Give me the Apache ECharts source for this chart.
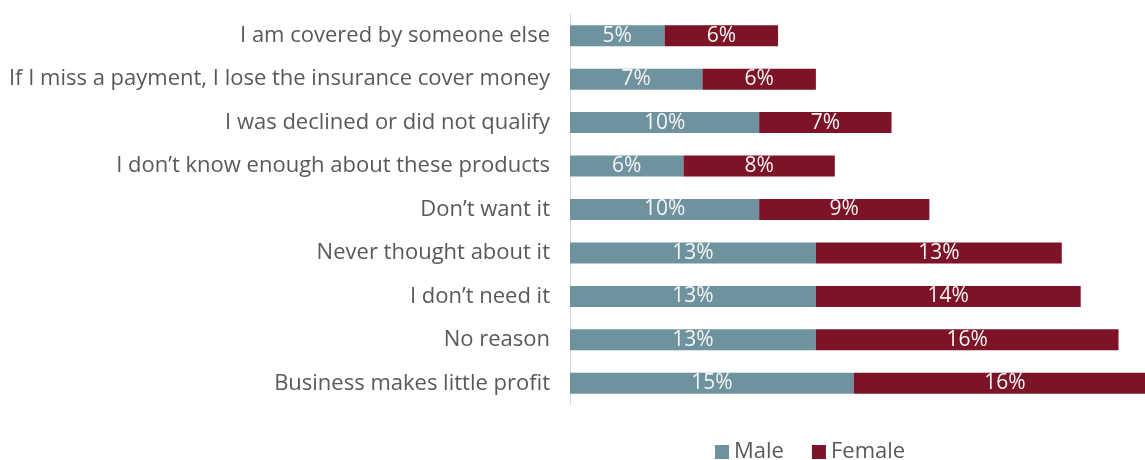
<!DOCTYPE html>
<html><head><meta charset="utf-8">
<script src="https://cdn.jsdelivr.net/npm/echarts@6/dist/echarts.min.js"></script>
<style>html,body{margin:0;padding:0;background:#fff}#c{width:1145px;height:460px}</style>
</head><body><div id="c"></div>
<script>
const categories = [
  "I am covered by someone else",
  "If I miss a payment, I lose the insurance cover money",
  "I was declined or did not qualify",
  "I don\u2019t know enough about these products",
  "Don\u2019t want it",
  "Never thought about it",
  "I don\u2019t need it",
  "No reason",
  "Business makes little profit"
];
const male = [5, 7, 10, 6, 10, 13, 13, 13, 15];
const female = [6, 6, 7, 8, 9, 13, 14, 16, 16];

const chart = echarts.init(document.getElementById('c'), null, {renderer: 'canvas'});
const font = "'Open Sans', 'Noto Sans', sans-serif";
const lbl = {show: true, position: 'inside', color: '#f4f4f4', fontSize: 21, fontFamily: font, formatter: p => p.value + '%'};
chart.setOption({
  animation: false,
  grid: {left: 570, right: 0, top: 14, bottom: 55, containLabel: false},
  legend: {
    left: 710, top: 436, itemWidth: 14, itemHeight: 14, itemGap: 28,
    icon: 'rect',
    textStyle: {color: '#595959', fontSize: 22, fontFamily: font},
    data: ['Male', 'Female']
  },
  xAxis: {type: 'value', min: 0, max: 30.4, show: false},
  yAxis: {
    type: 'category', data: categories, inverse: true,
    axisLine: {show: true, lineStyle: {color: '#d9d9d9', width: 1}},
    axisTick: {show: false},
    axisLabel: {color: '#595959', fontSize: 22, fontFamily: font, margin: 20}
  },
  series: [
    {name: 'Male', type: 'bar', stack: 's', data: male, barWidth: 21, clip: false, itemStyle: {color: '#6e939f'}, label: lbl},
    {name: 'Female', type: 'bar', stack: 's', data: female, barWidth: 21, clip: false, itemStyle: {color: '#7c1327'}, label: lbl}
  ]
});
</script></body></html>
